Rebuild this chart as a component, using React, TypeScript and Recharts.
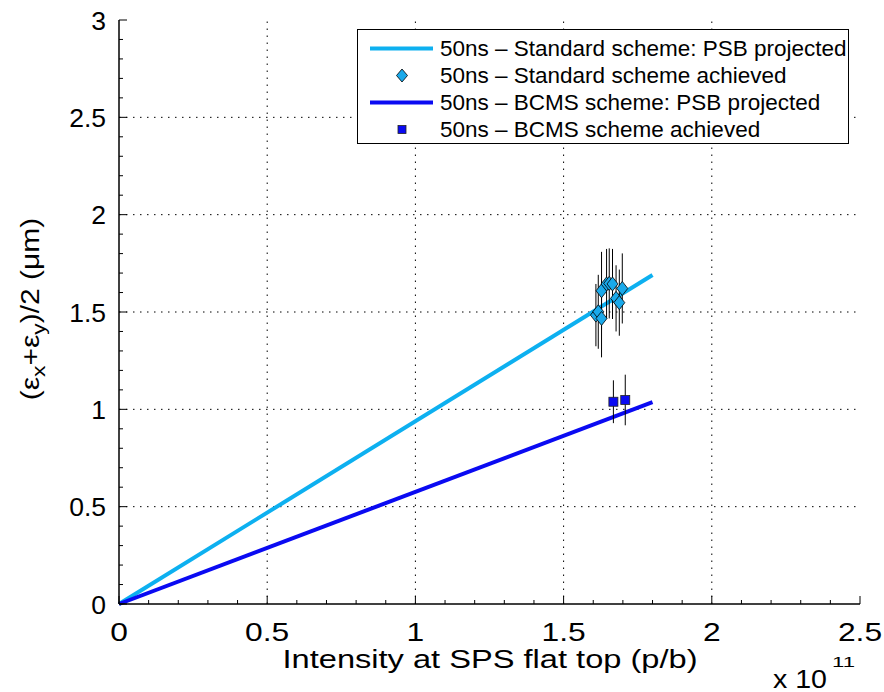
import { ComposedChart, Line, Scatter, ErrorBar, XAxis, YAxis, ReferenceLine, Label } from 'recharts';

// projected lines (intensity in 1e11 p/b, emittance in um)
const lineIntensity = [0, 1.8];
const standardProjected = [0, 1.69];
const bcmsProjected = [0, 1.037];

// measured points
const stdIntensity = [1.609, 1.617, 1.628, 1.628, 1.645, 1.654, 1.665, 1.677, 1.688, 1.698];
const stdEmittance = [1.484, 1.501, 1.467, 1.609, 1.644, 1.647, 1.644, 1.57, 1.548, 1.621];
const stdError = [0.16, 0.19, 0.2, 0.2, 0.18, 0.18, 0.18, 0.17, 0.17, 0.18];

const bcmsIntensity = [1.668, 1.708];
const bcmsEmittance = [1.039, 1.048];
const bcmsError = [0.11, 0.13];

const xMajor = [0, 0.5, 1, 1.5, 2, 2.5];
const yMajor = [0, 0.5, 1, 1.5, 2, 2.5, 3];
const xMinor = Array.from({ length: 26 }, (_, i) => +(i * 0.1).toFixed(1));
const yMinor = Array.from({ length: 31 }, (_, i) => +(i * 0.1).toFixed(1));

const LIGHT = '#0db0f0';
const DIAMOND = '#1aa9ea';
const BLUE = '#0a0af2';
const FONT = '"Liberation Sans", Arial, Helvetica, sans-serif';

const stdLine = lineIntensity.map((x, i) => ({ x, y: standardProjected[i] }));
const bcmsLine = lineIntensity.map((x, i) => ({ x, y: bcmsProjected[i] }));
const stdPts = stdIntensity.map((x, i) => ({ x, y: stdEmittance[i], e: stdError[i] }));
const bcmsPts = bcmsIntensity.map((x, i) => ({ x, y: bcmsEmittance[i], e: bcmsError[i] }));

const isMajor = (v: number) => Math.abs(v * 2 - Math.round(v * 2)) < 1e-6;

const BottomTick = (props: any) => {
  const { x, y, payload } = props;
  const v = payload.value;
  const m = isMajor(v);
  return (
    <g>
      <line x1={x} x2={x} y1={y} y2={y - (m ? 8 : 4)} stroke="#000" />
      {m && (
        <text
          x={x}
          y={y + 37}
          textAnchor="middle"
          fontSize={26.5}
          fontFamily={FONT}
          fill="#000"
          transform={`translate(${x},0) scale(1.2,1) translate(${-x},0)`}
        >
          {String(v)}
        </text>
      )}
    </g>
  );
};

const TopTick = (props: any) => {
  const { x, y, payload } = props;
  const m = isMajor(payload.value);
  return <line x1={x} x2={x} y1={y} y2={y + (m ? 8 : 4)} stroke="#000" />;
};

const LeftTick = (props: any) => {
  const { x, y, payload } = props;
  const v = payload.value;
  const m = isMajor(v);
  return (
    <g>
      <line x1={x} x2={x + (m ? 8 : 4)} y1={y} y2={y} stroke="#000" />
      {m && (
        <text x={x - 13} y={y + 9.5} textAnchor="end" fontSize={26.5} fontFamily={FONT} fill="#000">
          {String(v)}
        </text>
      )}
    </g>
  );
};

const RightTick = (props: any) => {
  const { x, y, payload } = props;
  const m = isMajor(payload.value);
  return <line x1={x} x2={x - (m ? 8 : 4)} y1={y} y2={y} stroke="#000" />;
};

const Diamond = (props: any) => {
  const { cx, cy } = props;
  return (
    <polygon
      points={`${cx},${cy - 7} ${cx + 5.5},${cy} ${cx},${cy + 7} ${cx - 5.5},${cy}`}
      fill={DIAMOND}
      stroke="#000"
      strokeWidth={0.8}
    />
  );
};

const Square = (props: any) => {
  const { cx, cy } = props;
  return <rect x={cx - 4.5} y={cy - 4.5} width={9} height={9} fill={BLUE} stroke="#222" strokeWidth={0.8} />;
};

const legendItems = [
  { name: '50ns \u2013 Standard scheme: PSB projected', kind: 'line', color: LIGHT },
  { name: '50ns \u2013 Standard scheme achieved', kind: 'diamond', color: DIAMOND },
  { name: '50ns \u2013 BCMS scheme: PSB projected', kind: 'line', color: BLUE },
  { name: '50ns \u2013 BCMS scheme achieved', kind: 'square', color: BLUE },
];

const LegendBox = () => (
  <div
    style={{
      position: 'absolute',
      left: 357,
      top: 29,
      width: 492,
      height: 115,
      border: '1.5px solid #000',
      background: '#fff',
      paddingTop: 5,
      fontFamily: FONT,
      fontSize: 22.5,
      boxSizing: 'border-box',
    }}
  >
    {legendItems.map((it) => (
      <div key={it.name} style={{ display: 'flex', alignItems: 'center', height: 27 }}>
        <svg width={82} height={27} style={{ flex: 'none' }}>
          {it.kind === 'line' && <line x1={12} x2={75} y1={13.5} y2={13.5} stroke={it.color} strokeWidth={4} />}
          {it.kind === 'diamond' && (
            <polygon points="44,7 49.5,13.5 44,20 38.5,13.5" fill={it.color} stroke="#000" strokeWidth={0.8} />
          )}
          {it.kind === 'square' && (
            <rect x={40} y={9.5} width={8} height={8} fill={it.color} stroke="#222" strokeWidth={0.8} />
          )}
        </svg>
        <span style={{ whiteSpace: 'nowrap', lineHeight: '27px' }}>{it.name}</span>
      </div>
    ))}
  </div>
);

export default function App() {
  return (
    <div style={{ position: 'absolute', left: 0, top: 0, width: 884, height: 692, background: '#fff' }}>
      <ComposedChart width={884} height={692} margin={{ top: 20, right: 24, bottom: 0, left: 0 }}>
        <XAxis
          xAxisId="b"
          dataKey="x"
          type="number"
          domain={[0, 2.5]}
          ticks={xMinor}
          interval={0}
          tickSize={0}
          tickMargin={0}
          tickLine={false}
          tick={<BottomTick />}
          height={88}
          stroke="#000"
          strokeWidth={1.5}
        >
          <Label
            content={() => (
              <g fontFamily={FONT} fill="#000">
                <text x={490} y={668} textAnchor="middle" fontSize={25.5} textLength={415} lengthAdjust="spacingAndGlyphs">
                  Intensity at SPS flat top (p/b)
                </text>
                <text x={773} y={688} fontSize={25} textLength={54} lengthAdjust="spacingAndGlyphs">
                  x 10
                </text>
                <text x={832} y={667} fontSize={15.5} textLength={23} lengthAdjust="spacingAndGlyphs">
                  11
                </text>
              </g>
            )}
          />
        </XAxis>
        <XAxis
          xAxisId="t"
          orientation="top"
          type="number"
          domain={[0, 2.5]}
          ticks={xMinor}
          interval={0}
          tickSize={0}
          tickMargin={0}
          tickLine={false}
          tick={<TopTick />}
          height={0}
          stroke="#000"
          strokeWidth={1.5}
        />
        <YAxis
          yAxisId="l"
          type="number"
          domain={[0, 3]}
          ticks={yMinor}
          interval={0}
          tickSize={0}
          tickMargin={0}
          tickLine={false}
          tick={<LeftTick />}
          width={119}
          stroke="#000"
          strokeWidth={1.5}
        >
          <Label
            content={() => (
              <text
                x={39}
                y={309}
                transform="rotate(-90 39 309) translate(39 309) scale(1.2 1) translate(-39 -309)"
                textAnchor="middle"
                fontSize={25}
                fontFamily={FONT}
                fill="#000"
              >
                <tspan>(ε</tspan>
                <tspan dy={6} fontSize={19}>x</tspan>
                <tspan dy={-6}>+ε</tspan>
                <tspan dy={6} fontSize={19}>y</tspan>
                <tspan dy={-6}>)/2 (μm)</tspan>
              </text>
            )}
          />
        </YAxis>
        <YAxis
          yAxisId="r"
          orientation="right"
          type="number"
          domain={[0, 3]}
          ticks={yMinor}
          interval={0}
          tickSize={0}
          tickMargin={0}
          tickLine={false}
          tick={<RightTick />}
          width={0}
          stroke="#000"
          strokeWidth={1.5}
        />
        {xMajor.slice(1, -1).map((v) => (
          <ReferenceLine key={'gx' + v} x={v} xAxisId="b" yAxisId="l" stroke="#000" strokeDasharray="1.5 5.5" />
        ))}
        {yMajor.slice(1, -1).map((v) => (
          <ReferenceLine key={'gy' + v} y={v} xAxisId="b" yAxisId="l" stroke="#000" strokeDasharray="1.5 5.5" />
        ))}
        <Line
          xAxisId="b"
          yAxisId="l"
          data={stdLine}
          dataKey="y"
          stroke={LIGHT}
          strokeWidth={4}
          dot={false}
          isAnimationActive={false}
          name="std-line"
        />
        <Line
          xAxisId="b"
          yAxisId="l"
          data={bcmsLine}
          dataKey="y"
          stroke={BLUE}
          strokeWidth={4}
          dot={false}
          isAnimationActive={false}
          name="bcms-line"
        />
        <Scatter xAxisId="b" yAxisId="l" data={stdPts} dataKey="y" shape={<Diamond />} isAnimationActive={false}>
          <ErrorBar dataKey="e" direction="y" width={0} stroke="#000" strokeWidth={1} />
        </Scatter>
        <Scatter xAxisId="b" yAxisId="l" data={bcmsPts} dataKey="y" shape={<Square />} isAnimationActive={false}>
          <ErrorBar dataKey="e" direction="y" width={0} stroke="#000" strokeWidth={1} />
        </Scatter>
      </ComposedChart>
      <LegendBox />
    </div>
  );
}
